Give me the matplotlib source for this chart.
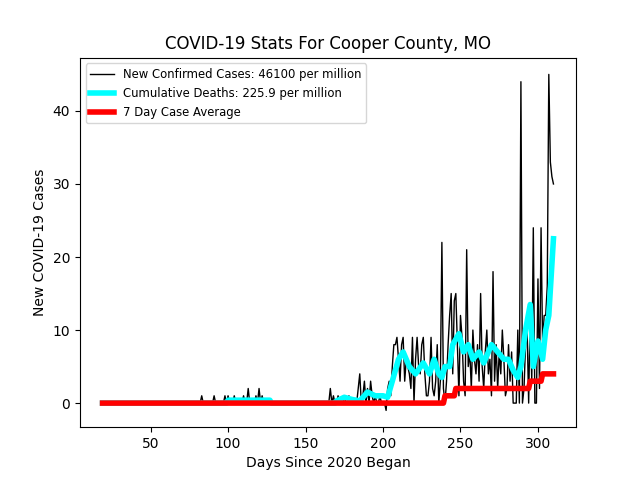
import numpy as np
import matplotlib
matplotlib.use("Agg")
import matplotlib.pyplot as plt

start_day = 19
early = {83: 1, 91: 1, 98: 1, 100: 1, 104: 1, 110: 1, 113: 2, 118: 1, 120: 2, 122: 1}
late_cases = [0,2,0,1,0,0,1,0,0,0,
              1,0,0,1,0,0,0,0,0,2,
              4,0,1,3,0,2,0,3,1,0,
              1,0,0,1,0,0,0,-1,2,3,
              1,5,8,8,9,6,3,8,9,3,
              6,5,4,2,9,0,6,9,5,4,
              8,9,4,1,1,3,9,2,1,3,
              8,0,3,22,2,0,3,8,12,15,
              4,14,15,8,1,12,9,3,1,21,
              5,7,2,10,6,4,8,3,15,5,
              2,7,10,4,6,1,18,3,8,2,
              7,4,10,6,1,2,8,3,7,0,
              0,0,10,0,44,0,2,8,10,0,
              13,3,24,0,0,17,2,24,8,12,
              12,16,45,33,31,30]
late_start = 165

avg_days = [19, 99, 100, 127, 128, 169, 170, 175, 180, 185, 190, 195, 200, 203, 206, 210, 213, 217, 221, 226, 230, 233,
            236, 238, 240, 243, 245, 249, 252, 255, 258, 262, 265, 270, 274, 278, 281, 284, 287, 289, 292,
            295, 297, 300, 303, 305, 307, 310]
avg_vals = [0, 0, 0.4, 0.4, 0, 0, 0.3, 0.8, 0.5, 0.3, 1.5, 1, 1, 0.8, 3, 6, 7, 5, 4, 5.5, 4, 6,
            4, 3.5, 5, 5, 8, 9.5, 7, 8, 6, 7, 5.5, 8, 7, 6, 6, 4.5, 3.5, 5, 10,
            13.5, 5, 8.5, 6, 10, 12, 22.5]

death_days = [19, 239, 240, 246, 247, 294, 295, 302, 303, 310]
death_vals = [0, 0, 1, 1, 2, 2, 3, 3, 4, 4]

days = np.arange(start_day, late_start + len(late_cases))
cases = np.zeros(len(days))
for d, v in early.items():
    cases[d - start_day] = v
cases[late_start - start_day:] = late_cases

fig, ax = plt.subplots(figsize=(6.4, 4.8), dpi=100)
ax.plot(days, cases, color='black', lw=1, label='New Confirmed Cases: 46100 per million')
ax.plot(avg_days, avg_vals, color='cyan', lw=4, label='Cumulative Deaths: 225.9 per million')
ax.plot(death_days, death_vals, color='red', lw=4, label='7 Day Case Average')
ax.set_title('COVID-19 Stats For Cooper County, MO')
ax.set_xlabel('Days Since 2020 Began')
ax.set_ylabel('New COVID-19 Cases')
ax.legend(loc='upper left', fontsize='small')
fig.savefig('out.png')
